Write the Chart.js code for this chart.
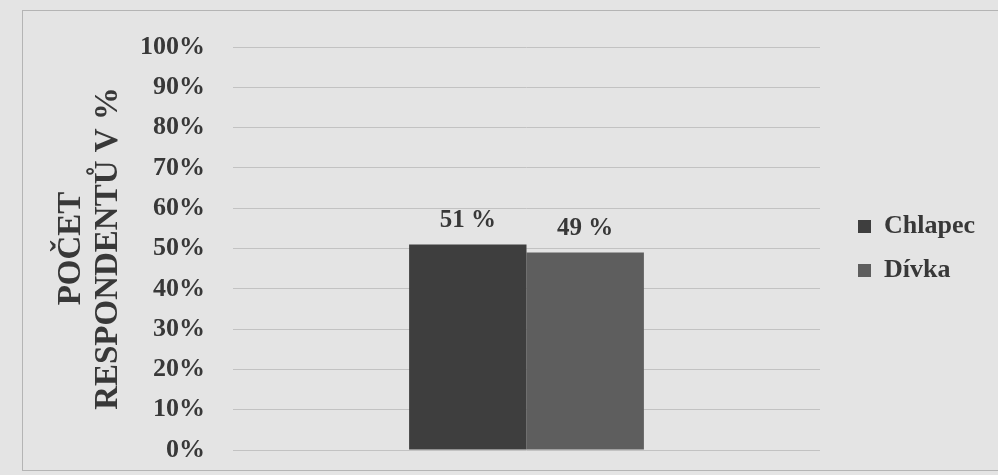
<!DOCTYPE html>
<html>
<head>
<meta charset="utf-8">
<script src="https://cdn.jsdelivr.net/npm/chart.js@4"></script>
<style>
  html, body { margin: 0; padding: 0; background: #e4e4e4; }
  #wrap { width: 998px; height: 475px; position: relative; }
</style>
</head>
<body>
<div id="wrap"><canvas id="chart"></canvas></div>
<script>
// data
const categories = ["Respondenti"];
const seriesNames = ["Chlapec", "Dívka"];
const seriesValues = [[51], [49]];
const seriesColors = ["#3e3e3e", "#5e5e5e"];
const yTicks = [0, 10, 20, 30, 40, 50, 60, 70, 80, 90, 100];

const ctx = document.querySelector("#chart").getContext("2d");
const textColor = "#383838";
const fontFamily = "'Liberation Serif', 'DejaVu Serif', serif";

// frame around the chart
const framePlugin = {
  id: "frame",
  beforeDraw: (chart) => {
    const c = chart.ctx;
    c.save();
    c.strokeStyle = "#b4b4b4";
    c.lineWidth = 1;
    c.strokeRect(22.5, 10.5, 990, 460);
    c.restore();
  },
};

// value labels above the bars
const valueLabels = {
  id: "valueLabels",
  afterDatasetsDraw: (chart) => {
    const c = chart.ctx;
    c.save();
    c.font = "bold 25px " + fontFamily;
    c.fillStyle = textColor;
    c.textAlign = "center";
    c.textBaseline = "bottom";
    chart.data.datasets.forEach((ds, i) => {
      chart.getDatasetMeta(i).data.forEach((bar, j) => {
        c.fillText(ds.data[j] + " %", bar.x, bar.y - 11);
      });
    });
    c.restore();
  },
};

new Chart(ctx, {
  type: "bar",
  data: {
    labels: categories,
    datasets: seriesNames.map((name, i) => ({
      label: name,
      data: seriesValues[i],
      backgroundColor: seriesColors[i],
      borderWidth: 0,
    })),
  },
  options: {
    responsive: true,
    maintainAspectRatio: false,
    animation: false,
    categoryPercentage: 0.4,
    barPercentage: 1.0,
    layout: {
      padding: { left: 53, right: 13, top: 47, bottom: 25 },
    },
    plugins: {
      tooltip: { enabled: false },
      legend: {
        display: true,
        position: "right",
        labels: {
          color: textColor,
          font: { family: fontFamily, size: 26, weight: "bold" },
          boxWidth: 13,
          boxHeight: 13,
          padding: 18,
        },
      },
    },
    scales: {
      x: {
        display: false,
      },
      y: {
        min: 0,
        max: 100,
        afterBuildTicks: (scale) => {
          scale.ticks = yTicks.map((v) => ({ value: v }));
        },
        afterFit: (scale) => {
          scale.width = 233 - 53;
          scale.paddingTop = 0;
          scale.paddingBottom = 0;
        },
        grid: { color: "#c2c2c2", lineWidth: 1, drawTicks: false },
        border: { display: false },
        ticks: {
          color: textColor,
          padding: 28,
          font: { family: fontFamily, size: 26, weight: "bold", lineHeight: 1 },
          callback: (v) => v + "%",
        },
        title: {
          display: true,
          text: ["POČET", "RESPONDENTŮ V %"],
          color: textColor,
          font: { family: fontFamily, size: 33, weight: "bold", lineHeight: 1.12 },
          padding: 0,
        },
      },
      gap: {
        position: "right",
        display: true,
        grid: { display: false },
        border: { display: false },
        ticks: { display: false },
        afterFit: (scale) => {
          scale.width = 20;
        },
      },
    },
  },
  plugins: [framePlugin, valueLabels],
});
</script>
</body>
</html>
